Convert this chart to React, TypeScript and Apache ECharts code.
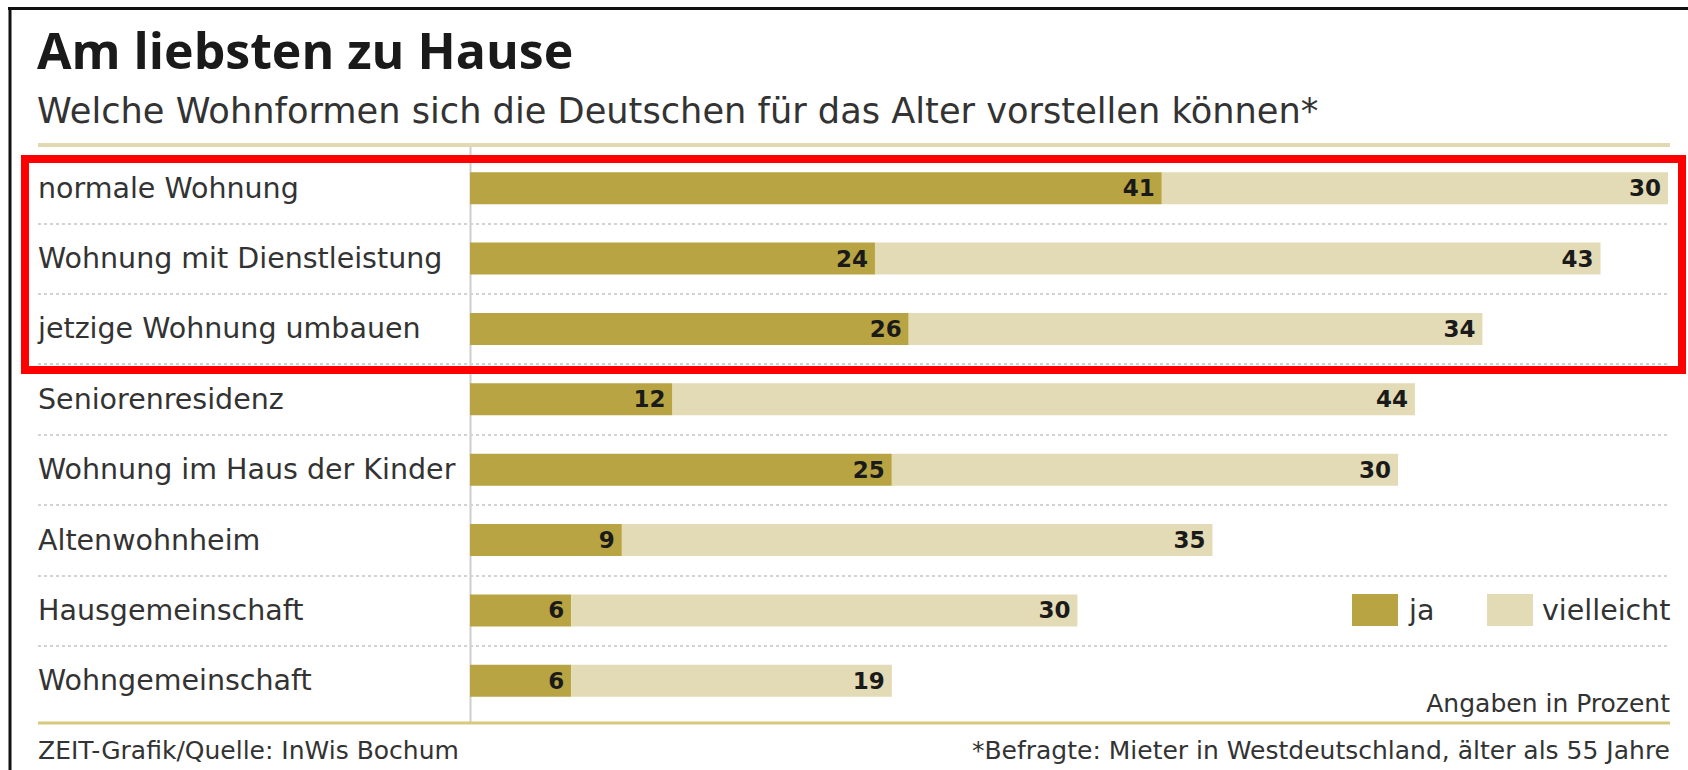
import React, { useEffect, useRef } from "react";
import * as echarts from "echarts";

const categories = [
  "normale Wohnung",
  "Wohnung mit Dienstleistung",
  "jetzige Wohnung umbauen",
  "Seniorenresidenz",
  "Wohnung im Haus der Kinder",
  "Altenwohnheim",
  "Hausgemeinschaft",
  "Wohngemeinschaft",
];
const jaValues = [41, 24, 26, 12, 25, 9, 6, 6];
const vielleichtValues = [30, 43, 34, 44, 30, 35, 30, 19];
const seriesNames = ["ja", "vielleicht"];
const titleText = "Am liebsten zu Hause";
const subtitleText = "Welche Wohnformen sich die Deutschen für das Alter vorstellen können*";
const unitText = "Angaben in Prozent";
const sourceText = "ZEIT-Grafik/Quelle: InWis Bochum";
const footText = "*Befragte: Mieter in Westdeutschland, älter als 55 Jahre";

const W = 1688;
const H = 770;
const FONT = "DejaVu Sans";
const DARK = "#b8a443";
const LIGHT = "#e3dbb5";
const TEXT = "#333333";

const gridTop = 153;
const rowH = 70.375;
const gridLeft = 470;
const gridRight = 1668;
const ruleLeft = 38;
const ruleRight = 1670;

export default function App() {
  const ref = useRef<HTMLDivElement>(null);
  useEffect(() => {
    if (!ref.current) return;
    const chart = echarts.init(ref.current, undefined, { renderer: "svg", width: W, height: H });
    const total = Math.max(...jaValues.map((v, i) => v + vielleichtValues[i]));
    const labelStyle = {
      show: true,
      position: "insideRight" as const,
      distance: 7,
      color: "#1a1a1a",
      fontFamily: FONT,
      fontWeight: "bold" as const,
      fontSize: 23,
    };
    chart.setOption({
      animation: false,
      backgroundColor: "#ffffff",
      grid: [
        { left: gridLeft, right: W - gridRight, top: gridTop, height: rowH * categories.length },
        { left: ruleLeft, right: W - ruleRight, top: gridTop + rowH, height: rowH * (categories.length - 2) },
      ],
      xAxis: [
        { type: "value", gridIndex: 0, min: 0, max: total, show: false },
        { type: "value", gridIndex: 1, min: 0, max: 1, show: false },
      ],
      yAxis: [
        {
          type: "category",
          gridIndex: 0,
          inverse: true,
          data: categories,
          axisLine: { show: false },
          axisTick: { show: false },
          splitLine: { show: false },
          axisLabel: {
            align: "left",
            margin: gridLeft - ruleLeft,
            fontFamily: FONT,
            fontSize: 28.5,
            color: TEXT,
          },
        },
        {
          type: "value",
          gridIndex: 1,
          min: 1,
          max: categories.length - 1,
          interval: 1,
          axisLine: { show: false },
          axisTick: { show: false },
          axisLabel: { show: false },
          splitLine: { show: true, lineStyle: { color: "#d2d2d2", width: 2, type: [3, 3] } },
        },
      ],
      legend: [
        {
          data: [seriesNames[0]],
          left: 1352,
          top: 594,
          padding: 0,
          itemWidth: 46,
          itemHeight: 32,
          icon: "rect",
          textStyle: { fontFamily: FONT, fontSize: 28.5, color: TEXT, padding: [0, 0, 0, 6] },
        },
        {
          data: [seriesNames[1]],
          left: 1487,
          top: 594,
          padding: 0,
          itemWidth: 46,
          itemHeight: 32,
          icon: "rect",
          textStyle: { fontFamily: FONT, fontSize: 28.5, color: TEXT, padding: [0, 0, 0, 4] },
        },
      ],
      series: [
        {
          name: seriesNames[0],
          type: "bar",
          stack: "total",
          xAxisIndex: 0,
          yAxisIndex: 0,
          barWidth: 32,
          data: jaValues,
          itemStyle: { color: DARK },
          label: labelStyle,
        },
        {
          name: seriesNames[1],
          type: "bar",
          stack: "total",
          xAxisIndex: 0,
          yAxisIndex: 0,
          barWidth: 32,
          data: vielleichtValues,
          itemStyle: { color: LIGHT },
          label: labelStyle,
        },
      ],
      graphic: [
        { type: "line", shape: { x1: 8, y1: 8.5, x2: W, y2: 8.5 }, style: { stroke: "#111", lineWidth: 3 }, z: 100 },
        { type: "line", shape: { x1: 10, y1: 7, x2: 10, y2: H }, style: { stroke: "#111", lineWidth: 3 }, z: 100 },
        {
          type: "text",
          x: 37,
          y: 50,
          style: { text: titleText, fontFamily: "Open Sans", fontWeight: "bold", fontSize: 50, fill: "#1a1a1a", verticalAlign: "middle" },
        },
        {
          type: "text",
          x: 37,
          y: 110,
          style: { text: subtitleText, fontFamily: FONT, fontSize: 35.2, fill: TEXT, verticalAlign: "middle" },
        },
        { type: "line", shape: { x1: ruleLeft, y1: 145, x2: ruleRight, y2: 145 }, style: { stroke: "#e2d9b3", lineWidth: 4 }, z: 50 },
        { type: "line", shape: { x1: gridLeft + 0.5, y1: 147, x2: gridLeft + 0.5, y2: 722 }, style: { stroke: "#cdcdcd", lineWidth: 2 }, z: 0 },
        { type: "line", shape: { x1: ruleLeft, y1: 723, x2: ruleRight, y2: 723 }, style: { stroke: "#d8c87c", lineWidth: 3 }, z: 50 },
        {
          type: "text",
          x: ruleRight,
          y: 703,
          style: { text: unitText, fontFamily: FONT, fontSize: 25, fill: TEXT, align: "right", verticalAlign: "middle" },
        },
        {
          type: "text",
          x: ruleLeft,
          y: 750,
          style: { text: sourceText, fontFamily: FONT, fontSize: 25, fill: TEXT, verticalAlign: "middle" },
        },
        {
          type: "text",
          x: ruleRight,
          y: 750,
          style: { text: footText, fontFamily: FONT, fontSize: 25, fill: TEXT, align: "right", verticalAlign: "middle" },
        },
        {
          type: "rect",
          shape: { x: 25, y: 159, width: 1657, height: 211 },
          style: { fill: "none", stroke: "#ff0000", lineWidth: 8 },
          z: 200,
        },
      ],
    });
    return () => chart.dispose();
  }, []);
  return <div ref={ref} style={{ width: W, height: H, position: "absolute", left: 0, top: 0 }} />;
}
